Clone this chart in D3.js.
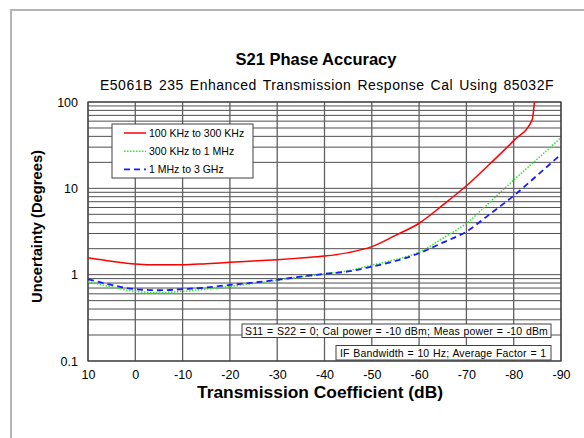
<!DOCTYPE html>
<html><head><meta charset="utf-8">
<script src="https://cdn.jsdelivr.net/npm/d3@7"></script>
<style>body{margin:0;background:#fff}svg{display:block;font-family:"Liberation Sans",Arial,sans-serif}</style>
</head><body>
<svg id="c" width="584" height="438"></svg>
<script>
const dB =        [10, 5, 0, -5, -10, -15, -20, -25, -30, -35, -40, -45, -50, -55, -60, -65, -70, -75, -80, -85, -90];
const red =       [1.57, 1.43, 1.33, 1.30, 1.30, 1.34, 1.39, 1.44, 1.49, 1.56, 1.64, 1.80, 2.11, 2.85, 3.94, 6.4, 10.7, 19.3, 35.7];
const redTailDb = [-83.9, -84.5];
const redTail =   [62, 120];
const green =     [0.83, 0.72, 0.64, 0.62, 0.64, 0.68, 0.73, 0.79, 0.86, 0.94, 1.02, 1.11, 1.29, 1.50, 1.82, 2.64, 3.94, 6.95, 12.5, 21.9, 38.7];
const blue =      [0.885, 0.76, 0.68, 0.66, 0.68, 0.71, 0.76, 0.81, 0.87, 0.95, 1.02, 1.09, 1.24, 1.44, 1.77, 2.35, 3.15, 5.05, 8.2, 14.2, 24.8];
const xTicks = [10, 0, -10, -20, -30, -40, -50, -60, -70, -80, -90];
const yTicks = [0.1, 1, 10, 100];
const yTickLabels = ["0.1", "1", "10", "100"];
const seriesNames = ["100 KHz to 300 KHz", "300 KHz to 1 MHz", "1 MHz to 3 GHz"];
const title = "S21 Phase Accuracy";
const subtitle = "E5061B 235 Enhanced Transmission Response Cal Using 85032F";
const note1 = "S11 = S22 = 0; Cal power = -10 dBm; Meas power = -10 dBm";
const note2 = "IF Bandwidth  = 10 Hz; Average Factor = 1";

const svg = d3.select("#c");
const L = 88, R = 561, T = 102, B = 361;
const x = d3.scaleLinear().domain([10, -90]).range([L, R]);
const y = d3.scaleLog().domain([0.1, 100]).range([B, T]);

function fitWords(sel, target, ls) {
  sel.attr("letter-spacing", ls);
  const n = sel.node();
  const len = n.getComputedTextLength();
  const spaces = (n.textContent.match(/ /g) || []).length;
  if (spaces) sel.attr("word-spacing", Math.max(0, (target - len) / spaces));
}

// outer frame
svg.append("path").attr("d", `M11,438 V10 H584`).attr("fill", "none").attr("stroke", "#b4b4b4").attr("stroke-width", 2);

// title
svg.append("text").attr("x", 316).attr("y", 65).attr("text-anchor", "middle")
  .attr("font-size", 16.5).attr("font-weight", "bold").text(title);
fitWords(svg.append("text").attr("x", 100).attr("y", 90).attr("font-size", 14).text(subtitle), 454, 0.5);

// grid
const g = svg.append("g");
const minor = [];
for (let d = 0.1; d < 100; d *= 10) for (let k = 2; k <= 9; k++) minor.push(d * k);
g.selectAll("line.h").data(minor.concat(yTicks)).join("line")
  .attr("x1", L).attr("x2", R).attr("y1", d => y(d)).attr("y2", d => y(d))
  .attr("stroke", "#505050").attr("stroke-width", 1);
g.selectAll("line.v").data(xTicks).join("line")
  .attr("y1", T).attr("y2", B).attr("x1", d => x(d)).attr("x2", d => x(d))
  .attr("stroke", "#606060").attr("stroke-width", 1.3);
g.append("rect").attr("x", L).attr("y", T).attr("width", R - L).attr("height", B - T)
  .attr("fill", "none").attr("stroke", "#404040").attr("stroke-width", 1.2);

// axes labels
const xAxis = d3.axisBottom(x).tickValues(xTicks).tickSize(0).tickPadding(9).tickFormat(d => String(d));
const xa = svg.append("g").attr("transform", `translate(0,${B})`).call(xAxis);
xa.select(".domain").remove();
xa.selectAll("text").attr("font-size", 12.5).attr("fill", "#000").attr("font-family", "Liberation Sans, Arial");
const yAxis = d3.axisLeft(y).tickValues(yTicks).tickSize(0).tickPadding(10).tickFormat((d, i) => yTickLabels[i]);
const ya = svg.append("g").attr("transform", `translate(${L},0)`).call(yAxis);
ya.select(".domain").remove();
ya.selectAll("text").attr("font-size", 12.5).attr("fill", "#000").attr("font-family", "Liberation Sans, Arial");

svg.append("text").attr("x", 197).attr("y", 398).attr("font-size", 16).attr("font-weight", "bold")
  .attr("textLength", 246).attr("lengthAdjust", "spacingAndGlyphs").text("Transmission Coefficient (dB)");
svg.append("text").attr("transform", "translate(42,303) rotate(-90)").attr("font-size", 15.5).attr("font-weight", "bold")
  .attr("textLength", 153).attr("lengthAdjust", "spacingAndGlyphs").text("Uncertainty (Degrees)");

// curves
svg.append("clipPath").attr("id", "clip").append("rect").attr("x", L).attr("y", T).attr("width", R - L).attr("height", B - T);
const line = d3.line().x(d => x(d[0])).y(d => y(d[1])).curve(d3.curveMonotoneX);
const cg = svg.append("g").attr("clip-path", "url(#clip)");
const redPts = red.map((v, i) => [dB[i], v]).concat(redTail.map((v, i) => [redTailDb[i], v]));
cg.append("path").attr("d", line(redPts)).attr("fill", "none").attr("stroke", "#ff0000").attr("stroke-width", 1.5);
cg.append("path").attr("d", line(green.map((v, i) => [dB[i], v]))).attr("fill", "none")
  .attr("stroke", "#22ee22").attr("stroke-width", 1.5).attr("stroke-dasharray", "1.5,1.5");
cg.append("path").attr("d", line(blue.map((v, i) => [dB[i], v]))).attr("fill", "none")
  .attr("stroke", "#1a1aff").attr("stroke-width", 1.8).attr("stroke-dasharray", "6,4");

// legend
const lg = svg.append("g");
lg.append("rect").attr("x", 112).attr("y", 124).attr("width", 141).attr("height", 54)
  .attr("fill", "#fff").attr("stroke", "#404040").attr("stroke-width", 1);
const styles = [
  {c: "#ff0000", w: 1.5, d: null},
  {c: "#22ee22", w: 1.5, d: "1.5,1.5"},
  {c: "#1a1aff", w: 1.8, d: "6,4"}
];
seriesNames.forEach((n, i) => {
  const yy = 133 + i * 18.2;
  lg.append("line").attr("x1", 124).attr("x2", 146).attr("y1", yy).attr("y2", yy)
    .attr("stroke", styles[i].c).attr("stroke-width", styles[i].w).attr("stroke-dasharray", styles[i].d);
  lg.append("text").attr("x", 149).attr("y", yy + 3.8).attr("font-size", 10.5).text(n);
});

// notes
svg.append("rect").attr("x", 242).attr("y", 324).attr("width", 309).attr("height", 13.5)
  .attr("fill", "#fff").attr("stroke", "#404040").attr("stroke-width", 1);
fitWords(svg.append("text").attr("x", 245).attr("y", 334.5).attr("font-size", 10.5).text(note1), 303, 0.15);
svg.append("rect").attr("x", 336).attr("y", 345.5).attr("width", 215).attr("height", 14.5)
  .attr("fill", "#fff").attr("stroke", "#404040").attr("stroke-width", 1);
fitWords(svg.append("text").attr("x", 340).attr("y", 356.5).attr("font-size", 10.5).text(note2), 207, 0.15);
</script>
</body></html>
